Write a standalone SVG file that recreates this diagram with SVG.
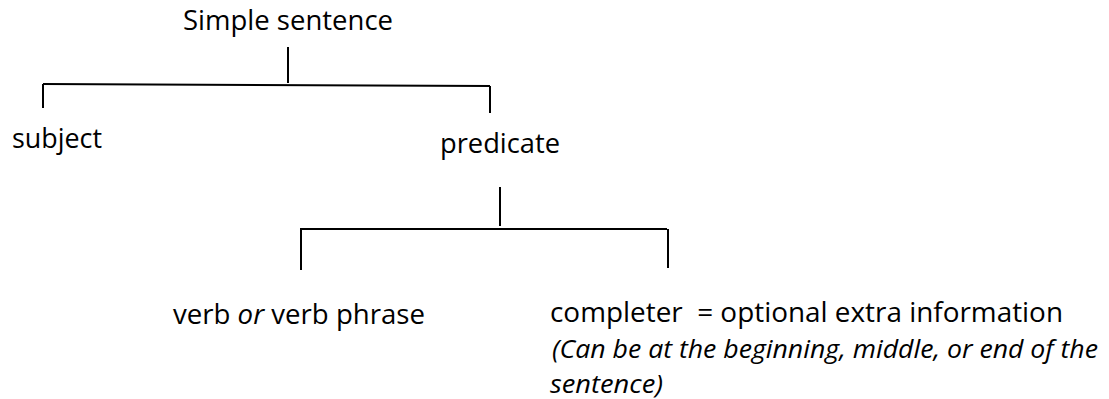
<svg xmlns="http://www.w3.org/2000/svg" width="1109" height="399" viewBox="0 0 1109 399">
<style>
  text { font-family: "Open Sans", "Noto Sans", "Liberation Sans", sans-serif; font-size: 27px; fill: #000; white-space: pre; }
  .it { font-style: italic; }
  .sm { font-size: 26px; }
  .conn line { stroke: #000; stroke-width: 2; stroke-linecap: butt; }
</style>
<rect width="1109" height="399" fill="#fff"/>
<g id="connectors" class="conn">
  <line x1="288" y1="47" x2="288" y2="83"/>
  <line x1="43" y1="84" x2="490" y2="86"/>
  <line x1="43" y1="84" x2="43" y2="108"/>
  <line x1="490" y1="86" x2="490" y2="113"/>
  <line x1="500" y1="187" x2="500" y2="226"/>
  <line x1="300" y1="229" x2="667" y2="229"/>
  <line x1="301" y1="229" x2="301" y2="270"/>
  <line x1="668" y1="229" x2="668" y2="268"/>
</g>
<g id="node-simple-sentence">
  <text x="183" y="30" textLength="210" lengthAdjust="spacingAndGlyphs">Simple sentence</text>
</g>
<g id="node-subject">
  <text x="12" y="148" textLength="90" lengthAdjust="spacingAndGlyphs">subject</text>
</g>
<g id="node-predicate">
  <text x="440" y="153" textLength="120" lengthAdjust="spacingAndGlyphs">predicate</text>
</g>
<g id="node-verb">
  <text x="173" y="324" textLength="252" lengthAdjust="spacingAndGlyphs">verb <tspan class="it">or</tspan> verb phrase</text>
</g>
<g id="node-completer">
  <text x="550" y="322" textLength="513" lengthAdjust="spacingAndGlyphs">completer  = optional extra information</text>
  <text class="it sm" x="552" y="358" textLength="546" lengthAdjust="spacingAndGlyphs">(Can be at the beginning, middle, or end of the</text>
  <text class="it sm" x="550" y="393" textLength="113" lengthAdjust="spacingAndGlyphs">sentence)</text>
</g>
</svg>
